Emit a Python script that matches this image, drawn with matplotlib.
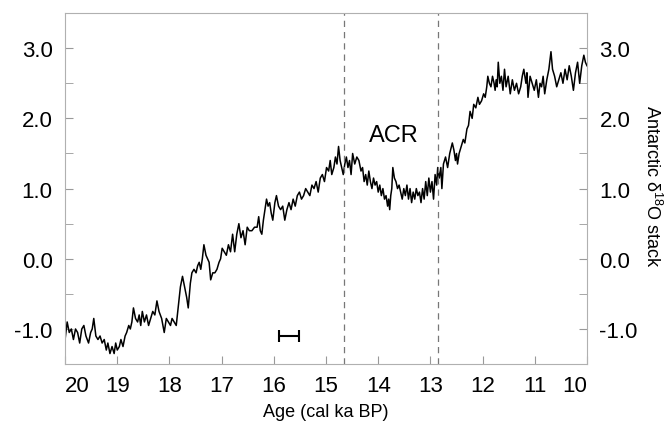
import numpy as np
import matplotlib
matplotlib.use("Agg")
import matplotlib.pyplot as plt
from matplotlib.ticker import FixedLocator

plt.rcParams['font.family'] = ['Liberation Sans', 'DejaVu Sans']
plt.rcParams['mathtext.fontset'] = 'custom'
plt.rcParams['mathtext.rm'] = 'Liberation Sans'

# Age (cal ka BP) and Antarctic d18O stack
age = [20.00, 19.96, 19.92, 19.88, 19.84, 19.80, 19.76, 19.72, 19.68, 19.64,
       19.60, 19.55, 19.51, 19.48, 19.45, 19.41, 19.37, 19.33, 19.29, 19.25,
       19.21, 19.18, 19.14, 19.10, 19.06, 19.03, 19.00, 18.96, 18.93, 18.89,
       18.85, 18.82, 18.78, 18.75, 18.72, 18.69, 18.65, 18.61, 18.58, 18.55,
       18.52, 18.48, 18.44, 18.40, 18.36, 18.32, 18.28, 18.24, 18.20, 18.15,
       18.10, 18.06, 18.02, 17.98, 17.95, 17.91, 17.87, 17.82, 17.79, 17.75,
       17.71, 17.67, 17.64, 17.60, 17.57, 17.53, 17.49, 17.46, 17.43, 17.40,
       17.37, 17.34, 17.30, 17.27, 17.24, 17.21, 17.17, 17.13, 17.09, 17.05,
       17.02, 16.99, 16.95, 16.91, 16.87, 16.83, 16.79, 16.75, 16.71, 16.67,
       16.63, 16.59, 16.55, 16.51, 16.47, 16.42, 16.37, 16.32, 16.29, 16.26,
       16.23, 16.20, 16.17, 16.14, 16.11, 16.08, 16.05, 16.02, 15.98, 15.95,
       15.91, 15.87, 15.83, 15.79, 15.75, 15.71, 15.67, 15.63, 15.59, 15.55,
       15.51, 15.47, 15.43, 15.39, 15.35, 15.31, 15.27, 15.23, 15.19, 15.15,
       15.11, 15.07, 15.03, 14.99, 14.95, 14.92, 14.89, 14.85, 14.82, 14.79,
       14.76, 14.73, 14.70, 14.67, 14.64, 14.61, 14.58, 14.55, 14.52, 14.49,
       14.45, 14.41, 14.37, 14.33, 14.30, 14.27, 14.24, 14.21, 14.18, 14.15,
       14.12, 14.09, 14.06, 14.03, 14.00, 13.97, 13.94, 13.91, 13.88, 13.85,
       13.82, 13.80, 13.78, 13.76, 13.74, 13.72, 13.69, 13.66, 13.63, 13.60,
       13.57, 13.54, 13.51, 13.48, 13.45, 13.42, 13.39, 13.36, 13.33, 13.30,
       13.27, 13.24, 13.21, 13.18, 13.15, 13.12, 13.09, 13.06, 13.03, 13.00,
       12.97, 12.94, 12.91, 12.88, 12.86, 12.83, 12.80, 12.78, 12.75, 12.71,
       12.67, 12.63, 12.58, 12.55, 12.52, 12.50, 12.48, 12.45, 12.41, 12.37,
       12.34, 12.30, 12.27, 12.24, 12.20, 12.17, 12.13, 12.09, 12.06, 12.02,
       11.98, 11.95, 11.92, 11.90, 11.87, 11.84, 11.81, 11.78, 11.76, 11.74,
       11.72, 11.70, 11.67, 11.64, 11.61, 11.58, 11.55, 11.51, 11.47, 11.43,
       11.39, 11.35, 11.31, 11.27, 11.24, 11.21, 11.17, 11.15, 11.13, 11.09,
       11.05, 11.01, 10.97, 10.93, 10.90, 10.87, 10.84, 10.81, 10.77, 10.73,
       10.69, 10.66, 10.62, 10.58, 10.54, 10.50, 10.46, 10.42, 10.38, 10.34,
       10.30, 10.26, 10.22, 10.18, 10.14, 10.10, 10.06, 10.03, 10.00]

d18o = [-1.15, -0.90, -1.05, -1.00, -1.15, -1.00, -1.05, -1.20, -1.00, -0.95,
        -1.10, -1.20, -1.05, -1.00, -0.85, -1.10, -1.15, -1.10, -1.20, -1.15,
        -1.30, -1.20, -1.35, -1.25, -1.35, -1.20, -1.30, -1.25, -1.15, -1.25,
        -1.10, -1.05, -0.95, -1.00, -0.90, -0.70, -0.85, -0.90, -0.80, -0.95,
        -0.75, -0.90, -0.80, -0.95, -0.85, -0.75, -0.80, -0.60, -0.75, -0.85,
        -1.05, -0.85, -0.90, -0.95, -0.85, -0.90, -0.95, -0.60, -0.40, -0.25,
        -0.40, -0.55, -0.70, -0.35, -0.20, -0.15, -0.20, -0.10, -0.05, -0.15,
        0.00, 0.20, 0.05, 0.00, -0.05, -0.30, -0.20, -0.20, -0.15, -0.05,
        0.00, 0.15, 0.10, 0.05, 0.20, 0.10, 0.35, 0.10, 0.35, 0.50,
        0.30, 0.40, 0.20, 0.45, 0.40, 0.40, 0.45, 0.45, 0.60, 0.40,
        0.35, 0.55, 0.70, 0.85, 0.75, 0.80, 0.65, 0.55, 0.80, 0.90,
        0.75, 0.70, 0.75, 0.55, 0.70, 0.80, 0.70, 0.85, 0.75, 0.90,
        0.95, 0.85, 0.90, 1.00, 0.95, 0.90, 1.05, 1.00, 1.10, 0.95,
        1.15, 1.20, 1.10, 1.30, 1.25, 1.40, 1.20, 1.30, 1.45, 1.35,
        1.60, 1.40, 1.30, 1.20, 1.35, 1.45, 1.30, 1.40, 1.20, 1.50,
        1.35, 1.45, 1.40, 1.25, 1.30, 1.10, 1.20, 1.05, 1.25, 1.10,
        1.00, 1.15, 1.05, 1.10, 0.95, 1.05, 0.90, 1.00, 0.85, 0.90,
        0.75, 0.85, 0.70, 0.90, 1.00, 1.30, 1.15, 1.10, 1.00, 1.05,
        0.95, 0.85, 1.00, 0.90, 1.05, 0.85, 1.00, 0.80, 0.95, 0.85,
        1.00, 0.90, 0.95, 0.80, 1.00, 0.85, 1.10, 0.90, 1.15, 0.95,
        1.10, 0.85, 1.20, 1.05, 1.30, 1.15, 1.30, 1.00, 1.35, 1.45,
        1.30, 1.50, 1.65, 1.55, 1.40, 1.50, 1.35, 1.50, 1.60, 1.70,
        1.65, 1.85, 1.90, 2.10, 2.00, 2.20, 2.15, 2.30, 2.20, 2.25,
        2.35, 2.30, 2.45, 2.60, 2.50, 2.45, 2.60, 2.50, 2.40, 2.55,
        2.45, 2.80, 2.50, 2.60, 2.40, 2.70, 2.45, 2.60, 2.35, 2.55,
        2.40, 2.50, 2.35, 2.45, 2.60, 2.70, 2.50, 2.65, 2.30, 2.60,
        2.50, 2.40, 2.55, 2.30, 2.50, 2.45, 2.60, 2.35, 2.55, 2.70,
        2.95, 2.70, 2.60, 2.45, 2.55, 2.65, 2.50, 2.70, 2.55, 2.75,
        2.60, 2.40, 2.65, 2.80, 2.50, 2.75, 2.90, 2.80, 2.75]

acr_bounds = [14.65, 12.86]
xticks = [20, 19, 18, 17, 16, 15, 14, 13, 12, 11, 10]
yticks = [-1.0, 0.0, 1.0, 2.0, 3.0]
err_age, err_val, err_half = 15.71, -1.1, 0.2

fig = plt.figure(figsize=(6.64, 4.27), dpi=100)
ax = fig.add_axes([0.098, 0.145, 0.786, 0.822])

ax.plot(age, d18o, color='k', lw=1.1)
for a in acr_bounds:
    ax.axvline(a, color='#777777', ls=(0, (5, 4)), lw=0.9)
ax.errorbar(err_age, err_val, xerr=err_half, color='k', capsize=4, lw=1.5, capthick=1.5)
ax.text(13.70, 1.77, 'ACR', fontsize=17, ha='center', va='center')

ax.set_xlim(20, 10)
ax.set_ylim(-1.5, 3.5)
ax.set_xticks(xticks)
ax.set_xticklabels([str(t) for t in xticks])
ax.set_yticks(yticks)
ax.set_yticklabels(['%.1f' % t for t in yticks])
ax.yaxis.set_minor_locator(FixedLocator([-0.5, 0.5, 1.5, 2.5]))

for s in ax.spines.values():
    s.set_color('#b0b0b0')
ax.tick_params(axis='both', which='both', direction='in', color='#999999', labelsize=16)
ax.tick_params(axis='y', which='both', left=True, right=True, labelleft=True, labelright=True, pad=9, length=6)
ax.tick_params(axis='x', length=6, pad=8, top=False)
labs = ax.get_xticklabels()
labs[0].set_ha('left')
labs[-1].set_ha('right')

ax.set_xlabel('Age (cal ka BP)', fontsize=13, va='center')
ax.xaxis.set_label_coords(0.5, -0.134)
ax.yaxis.set_label_position('right')
ax.set_ylabel('Antarctic δ$^{18}$O stack', fontsize=13, rotation=270, va='center')
ax.yaxis.set_label_coords(1.125, 0.51)

fig.savefig('out.png', dpi=100)
